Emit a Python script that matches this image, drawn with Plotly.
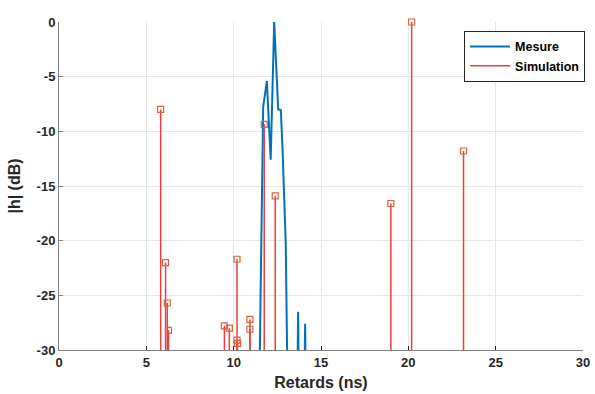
import plotly.graph_objects as go

# Measured impulse response (dB) vs delay (ns); values below -30 dB are clipped by the axis
mes_x = [0.0, 11.3, 11.49, 11.69, 11.9, 12.12, 12.32, 12.55, 12.7, 12.8, 12.98, 13.14, 13.3, 13.6, 13.69, 13.77, 14.0, 14.09, 14.17, 30.0]
mes_y = [-60, -60, -31.0, -7.75, -5.4, -12.6, 0.0, -8.0, -8.05, -11.7, -20.2, -30.5, -60, -40, -26.5, -40, -40, -27.6, -40, -60]

# Simulated paths (stem plot)
sim_x = [5.82, 6.1, 6.2, 6.27, 9.47, 9.75, 10.19, 10.19, 10.22, 10.93, 10.93, 11.75, 12.38, 19.0, 20.19, 23.16]
sim_y = [-8.0, -22.0, -25.7, -28.2, -27.8, -28.0, -21.7, -29.1, -29.4, -27.2, -28.1, -9.36, -15.9, -16.6, 0.0, -11.8]

x_ticks = [0, 5, 10, 15, 20, 25, 30]
y_ticks = [0, -5, -10, -15, -20, -25, -30]
y_base = -30

red_line = "rgb(236,62,58)"
red_marker = "rgb(222,96,62)"
blue = "#0072BD"

stem_x, stem_y = [], []
for xv, yv in zip(sim_x, sim_y):
    stem_x += [xv, xv, None]
    stem_y += [y_base, yv, None]

fig = go.Figure()
fig.add_trace(go.Scatter(x=mes_x, y=mes_y, mode="lines", name="Mesure",
                         line=dict(color=blue, width=2)))
fig.add_trace(go.Scatter(x=stem_x, y=stem_y, mode="lines", name="Simulation",
                         line=dict(color=red_line, width=1.5)))
fig.add_trace(go.Scatter(x=sim_x, y=sim_y, mode="markers", showlegend=False,
                         marker=dict(symbol="square-open", size=6, color=red_marker,
                                     line=dict(width=1.2, color=red_marker)),
                         cliponaxis=False))

font = "Liberation Sans, Arial, sans-serif"
fig.update_layout(
    width=595, height=394,
    margin=dict(l=59, r=10, t=22, b=44),
    paper_bgcolor="white", plot_bgcolor="white",
    font=dict(family=font, color="#262626"),
    showlegend=True,
    legend=dict(x=1.004, y=0.973, xanchor="right", yanchor="top",
                bgcolor="white", bordercolor="#262626", borderwidth=1,
                font=dict(family=font, size=12.5, color="black", weight="bold"),
                itemwidth=40, tracegroupgap=0),
    xaxis=dict(range=[0, 30], tickvals=x_ticks, ticktext=[str(v) for v in x_ticks],
               showgrid=True, gridcolor="#e6e6e6", gridwidth=1,
               showline=True, linecolor="#808080", linewidth=1,
               ticks="inside", ticklen=4, tickcolor="#262626",
               tickfont=dict(family=font, size=13, color="#262626", weight="bold"),
               zeroline=False, mirror=False, automargin=False,
               title=dict(text="Retards (ns)", standoff=8,
                          font=dict(family=font, size=16, color="#262626", weight="bold"))),
    yaxis=dict(range=[-30, 0], tickvals=y_ticks, ticktext=[str(v) for v in y_ticks],
               showgrid=True, gridcolor="#e6e6e6", gridwidth=1,
               showline=True, linecolor="#808080", linewidth=1,
               ticks="inside", ticklen=4, tickcolor="#808080",
               tickfont=dict(family=font, size=13, color="#262626", weight="bold"),
               zeroline=False, mirror=False, automargin=False,
               title=dict(text="|h| (dB)", standoff=12,
                          font=dict(family=font, size=16, color="#262626", weight="bold"))),
)

fig.write_html("out.html",
               config={"displayModeBar": False},
               post_script="document.body.style.margin='0';"
                           "document.documentElement.style.overflow='hidden';")
